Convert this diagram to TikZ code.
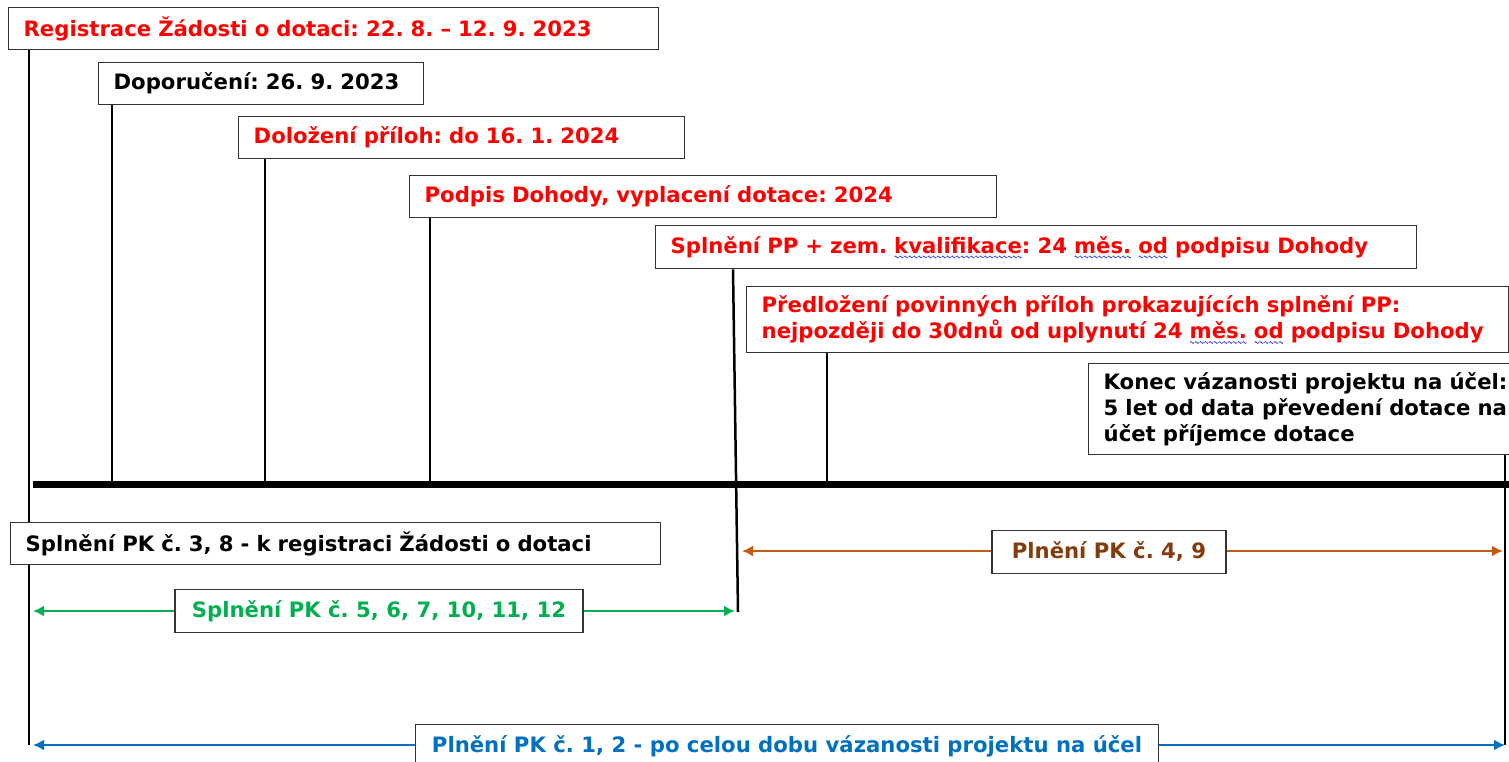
\documentclass[tikz,border=0pt]{standalone}
\usepackage{fontspec}
\setmainfont{DejaVu Sans}
\usetikzlibrary{calc}
\usetikzlibrary{arrows.meta}
\definecolor{cervena}{RGB}{255,0,0}
\definecolor{zelena}{RGB}{0,176,80}
\definecolor{oranz}{RGB}{197,90,17}
\definecolor{hneda}{RGB}{132,60,12}
\definecolor{modra}{RGB}{0,112,192}
\definecolor{kontrola}{RGB}{60,60,220}
\newsavebox{\spellbox}
\newcommand{\spell}[1]{\sbox\spellbox{#1}\rlap{\raisebox{-5pt}[0pt][0pt]{\hbox to \wd\spellbox{\xleaders\hbox{\tikz[x=1pt,y=1pt]\draw[kontrola,line width=0.7pt] (0,0) sin (1,1) cos (2,0) sin (3,-1) cos (4,0);}\hfill}}}\usebox\spellbox}
\frenchspacing
\tikzstyle{bx}=[draw=black!80,line width=1.3pt,fill=white,anchor=north west,
                inner xsep=15pt,inner ysep=0pt,minimum height=42pt,align=left,
                font=\fontsize{21.2}{26}\selectfont\bfseries]
\tikzstyle{lbl}=[draw=black!80,line width=1.3pt,fill=white,inner sep=0pt,
                minimum height=43pt,font=\fontsize{21.2}{26}\selectfont\bfseries]
\tikzstyle{stem}=[line width=2.5pt]
\tikzstyle{span}=[line width=2.5pt,{Latex[length=11pt,width=11pt]}-{Latex[length=11pt,width=11pt]}]

\begin{document}
\begin{tikzpicture}[x=1pt,y=-1pt]
\clip (0,0) rectangle (1509,762);
% terminy nad osou
\node[bx,text=cervena,text width=620pt] (reg) at (8,7) {Registrace Žádosti o dotaci: 22. 8. – 12. 9. 2023};
\node[bx,text width=295pt] (dop) at (98,62) {Doporučení: 26. 9. 2023};
\node[bx,text=cervena,text width=416pt] (dol) at (238,116) {Doložení příloh: do 16. 1. 2024};
\node[bx,text=cervena,text width=557pt] (podpis) at (409,175) {Podpis Dohody, vyplacení dotace: 2024};
\node[bx,text=cervena,text width=731pt,minimum height=43pt] (splpp) at (655,225) {Splnění PP + zem. \spell{kvalifikace}: 24 \spell{měs.} \spell{od} podpisu Dohody};
\node[bx,text=cervena,text width=732pt,minimum height=66pt] (predl) at (746,286) {Předložení povinných příloh prokazujících splnění PP:\\nejpozději do 30dnů od uplynutí 24 \spell{měs.} \spell{od} podpisu Dohody};
\node[bx,text width=480pt,minimum height=91pt] (konec) at (1088,363) {Konec vázanosti projektu na účel:\\5 let od data převedení dotace na\\účet příjemce dotace};
% osa
\coordinate (osaL) at (33,484);
\coordinate (osaR) at (1509,484);
\coordinate (s1) at (29,745);
\coordinate (s2) at (112,484);
\coordinate (s3) at (265,484);
\coordinate (s4) at (430,484);
\coordinate (s5) at (738,612);
\coordinate (s5t) at (733,0);
\coordinate (s6) at (827,484);
\coordinate (s7) at (1505,745);
\draw[stem] (reg.south -| s1) -- (s1);
\draw[stem] (dop.south -| s2) -- (s2);
\draw[stem] (dol.south -| s3) -- (s3);
\draw[stem] (podpis.south -| s4) -- (s4);
\draw[stem] (splpp.south -| s5t) -- (s5);
\draw[stem] (predl.south -| s6) -- (s6);
\draw[stem] (konec.south -| s7) -- (s7);
\draw[line width=7pt] (osaL) -- (osaR);
% pod osou
\node[bx,text width=620pt] (pk38) at (10,522) {Splnění PK č. 3, 8 - k registraci Žádosti o dotaci};
\coordinate (zL) at (33,611);
\coordinate (zR) at (735,611);
\coordinate (oL) at (742,551);
\coordinate (oR) at (1503,551);
\coordinate (mL) at (33,745);
\coordinate (mR) at (1505,745);
\draw[span,zelena] (zL) -- (zR);
\draw[span,oranz] (oL) -- (oR);
\draw[span,modra] (mL) -- (mR);
\node[lbl,text=zelena,minimum width=408pt] (pkzel) at (379,611) {Splnění PK č. 5, 6, 7, 10, 11, 12};
\node[lbl,text=hneda,minimum width=234pt] (pkor) at (1109,552) {Plnění PK č. 4, 9};
\node[lbl,text=modra,minimum width=743pt] (pkmod) at (787,746) {Plnění PK č. 1, 2 - po celou dobu vázanosti projektu na účel};
\end{tikzpicture}
\end{document}
